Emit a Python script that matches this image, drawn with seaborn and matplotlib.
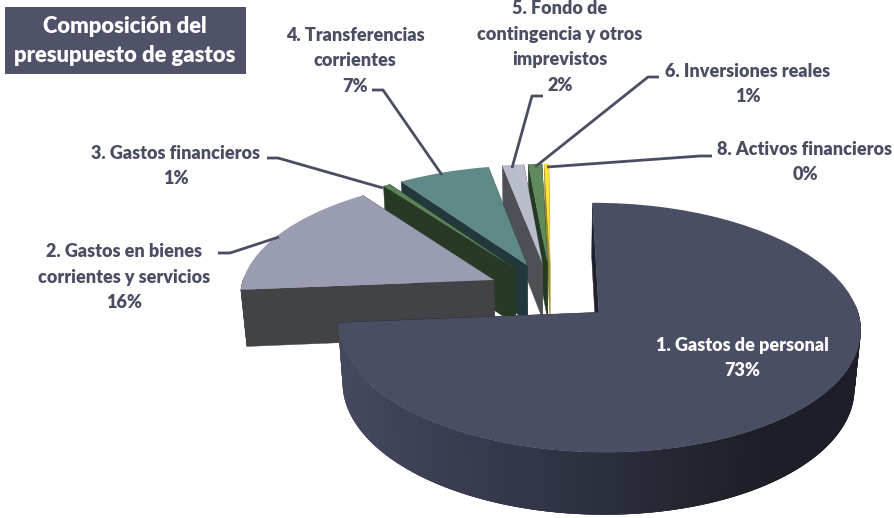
import numpy as np
import matplotlib
matplotlib.use("Agg")
import matplotlib.pyplot as plt
import seaborn as sns
from matplotlib.transforms import Transform
from matplotlib.patches import Rectangle

# ---- data ----
categories = ["1. Gastos de personal", "2. Gastos en bienes\ncorrientes y servicios",
              "3. Gastos financieros", "4. Transferencias\ncorrientes",
              "5. Fondo de\ncontingencia y otros\nimprevistos", "6. Inversiones reales",
              "8. Activos financieros"]
values = [73.7, 16.2, 0.5, 6.64, 1.56, 1.0, 0.33]
percent_labels = ["73%", "16%", "1%", "7%", "2%", "1%", "0%"]
top_colors = ["#4a4e63", "#9a9db2", "#5c8259", "#5f8987", "#b9bcca", "#5f8a5e", "#fde432"]
side_colors = ["#2e3040", "#424347", "#283a26", "#23383a", "#4f5055", "#243a22", "#9a8a2a"]
explode = [0.25] * 7
title_text = "Composición del\npresupuesto de gastos"

# ---- label layout (pixel positions) ----
label_xy = [(742, 358), (124, 277), (176, 166), (355, 61), (560, 47), (748, 84), (805, 162)]
leaders = [None,
           [(218, 253), (230, 253), (279, 237)],
           [(267, 158), (278, 158), (383, 188)],
           [(372, 90), (383, 90), (442, 175)],
           [(543, 96), (532, 96), (512, 168)],
           [(659, 77), (648, 77), (535, 167)],
           [(712, 156), (700, 156), (547, 167)]]

# ---- projection of the tilted pie ----
CX, CY, B, A, D, K, M = 551.0, 292.0, 254.0, 118.0, 58.0, 0.12, 0.02


def project(u, v, z=0.0):
    u, v = np.asarray(u, float), np.asarray(v, float)
    w = 1 + K * v + M * z
    return CX + B * u / w, CY + (-A * v + D * z) / w


class TiltedPie(Transform):
    input_dims = output_dims = 2
    is_separable = False
    has_inverse = False

    def transform_non_affine(self, values):
        x, y = project(values[:, 0], values[:, 1])
        return np.column_stack([x, y])


sns.set_theme(style="white")
plt.rcParams["font.family"] = ["Lato", "DejaVu Sans"]
LABEL = "#4a4e63"

fig = plt.figure(figsize=(8.95, 5.18), dpi=100)
ax = fig.add_axes([0, 0, 1, 1])
wedges, _ = ax.pie(values, explode=explode, startangle=90.3, counterclock=False,
                   colors=top_colors, wedgeprops=dict(linewidth=0))
ax.set_aspect("auto")
ax.set_xlim(0, 895)
ax.set_ylim(518, 0)
ax.axis("off")

painter = [6, 5, 4, 3, 2, 1, 0]
rim_left = np.array(matplotlib.colors.to_rgb("#45485f"))
rim_right = np.array(matplotlib.colors.to_rgb("#1c1f27"))

for order, i in enumerate(painter):
    wedge = wedges[i]
    base = 10 * (order + 1)
    wedge.set_transform(TiltedPie() + ax.transData)
    wedge.set_clip_on(False)
    wedge.set_zorder(base + 3)
    cu, cv = wedge.center
    t1, t2 = np.radians(wedge.theta1), np.radians(wedge.theta2)
    # cut faces
    for t in (t1, t2):
        eu, ev = cu + np.cos(t), cv + np.sin(t)
        xs0, ys0 = project([cu, eu], [cv, ev], 0)
        xs1, ys1 = project([eu, cu], [ev, cv], 1)
        ax.fill(np.r_[xs0, xs1], np.r_[ys0, ys1], color=side_colors[i] if i else "#1f222c",
                lw=0.3, zorder=base + 1)
    # outer rim, only the part facing the viewer
    th = np.linspace(t1, t2, max(6, int((t2 - t1) * 60)))
    for j in range(len(th) - 1):
        a, b = th[j], th[min(j + 3, len(th) - 1)]
        if np.sin((th[j] + th[j + 1]) / 2) > 0.03:
            continue
        arc = np.linspace(a, b, 6)
        uu = cu + np.cos(arc)
        vv = cv + np.sin(arc)
        x0, y0 = project(uu, vv, 0)
        x1, y1 = project(uu[::-1], vv[::-1], 1)
        if i == 0:
            f = np.clip((x0[0] - 340) / 420, 0, 1)
            col = rim_left * (1 - f) + rim_right * f
        else:
            col = side_colors[i]
        ax.fill(np.r_[x0, x1], np.r_[y0, y1], color=col, lw=0, zorder=base + 2)

# title box
ax.add_patch(Rectangle((5, 7), 241, 67, color="#4f5268", lw=0, zorder=200))
ax.text(125, 41, title_text, color="white", fontsize=15.8, fontweight="heavy", ha="center",
        va="center", linespacing=1.42, zorder=201)

# labels and leader lines
for i, (name, pct) in enumerate(zip(categories, percent_labels)):
    x, y = label_xy[i]
    ax.text(x, y, f"{name}\n{pct}", color="white" if i == 0 else LABEL, fontsize=13.0,
            fontweight="heavy", ha="center", va="center", linespacing=1.6, zorder=150)
    if leaders[i]:
        lx, ly = zip(*leaders[i])
        ax.plot(lx, ly, color=LABEL, lw=2, solid_capstyle="butt", solid_joinstyle="round", zorder=140)

fig.savefig("out.png", dpi=100, facecolor="white")
